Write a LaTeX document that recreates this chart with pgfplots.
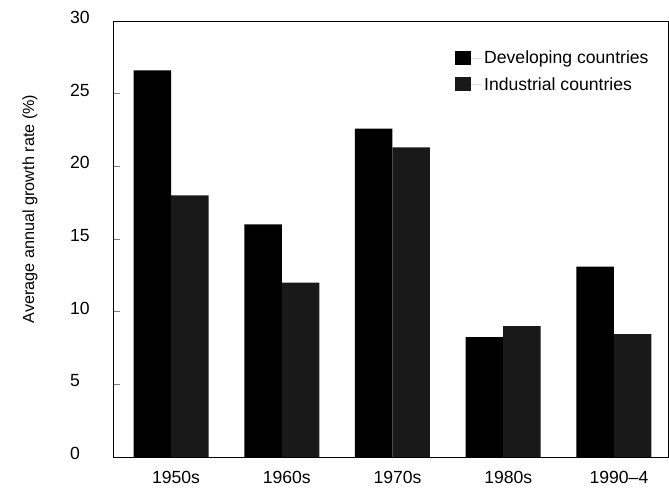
\documentclass[border=0pt]{standalone}
\usepackage{fontspec}
\setmainfont{Liberation Sans}
\usepackage{pgfplots}
\pgfplotsset{compat=1.18}
\newcommand\ff{\fontsize{17.6}{20}\selectfont}
\newcommand\fl{\fontsize{16.2}{19}\selectfont}
\begin{document}
\begin{tikzpicture}
\begin{axis}[
  at={(0pt,0pt)}, anchor=south west,
  scale only axis, width=554pt, height=436pt,
  xmin=-0.515, xmax=4.488, ymin=0, ymax=30,
  ybar=0pt, bar width=37.5pt,
  axis line style={line width=1pt},
  xtick={0,1,2,3,4},
  xticklabels={1950s,1960s,1970s,1980s,1990--4},
  xtick style={draw=none},
  ytick={0,5,10,15,20,25,30},
  ytick pos=left,
  major tick length=6pt,
  ytick style={line width=0.9pt},
  /pgf/number format/assume math mode=true,
  xticklabel style={font=\ff, anchor=north, inner sep=0pt, yshift=-8pt, xshift=5pt},
  yticklabel style={font=\ff, anchor=west, inner sep=0pt, xshift=-44pt, yshift=3.5pt},
  ylabel={Average annual growth rate (\%)},
  ylabel style={font=\fl, at={(axis description cs:-0.1516,0.569)}, anchor=center, rotate=0},
  legend style={draw=none, fill=none, font=\ff, at={(axis description cs:0.6155,0.936)}, anchor=north west, inner sep=0pt, row sep=8pt, legend cell align=left},
  legend image code/.code={\fill[#1] (0pt,-7pt) rectangle (16pt,7pt); \path (0pt,0pt) -- (27pt,0pt);},
]
\addplot[fill=black, draw=none] coordinates {(0,26.6) (1,16.0) (2,22.6) (3,8.25) (4,13.1)};
\addplot[fill=black!90, draw=none] coordinates {(0,18.0) (1,12.0) (2,21.3) (3,9.0) (4,8.45)};
\legend{Developing countries, Industrial countries}
\end{axis}
\pgfresetboundingbox
\path (-114pt,-34pt) rectangle (555pt,457pt);
\end{tikzpicture}
\end{document}
